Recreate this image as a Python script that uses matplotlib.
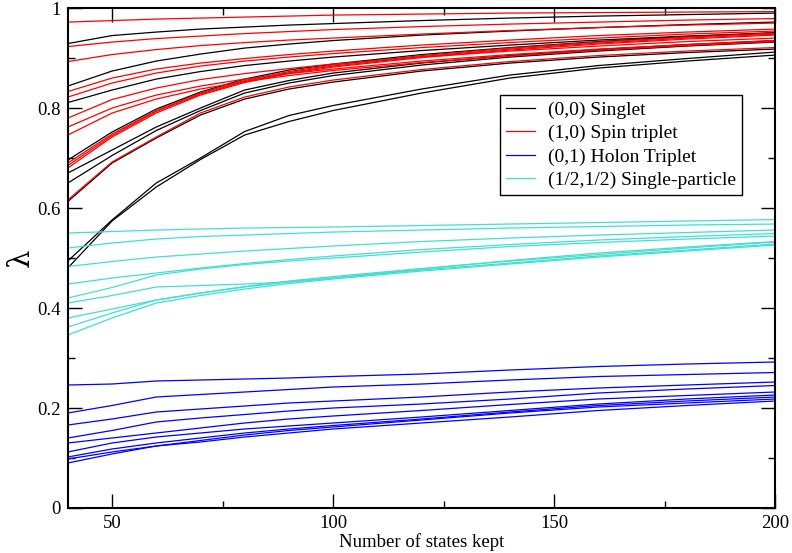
import matplotlib
matplotlib.use("Agg")
import matplotlib.pyplot as plt
from matplotlib.ticker import MultipleLocator, FixedLocator

plt.rcParams['font.family'] = ['Liberation Serif', 'DejaVu Serif']

states = [40, 50, 60, 70, 80, 90, 100, 120, 140, 160, 180, 200]

singlet = [
    [0.929, 0.945, 0.952, 0.958, 0.962, 0.966, 0.969, 0.975, 0.980, 0.984, 0.987, 0.990],
    [0.844, 0.874, 0.894, 0.908, 0.920, 0.928, 0.935, 0.946, 0.954, 0.961, 0.967, 0.972],
    [0.811, 0.836, 0.858, 0.873, 0.885, 0.894, 0.902, 0.915, 0.926, 0.936, 0.944, 0.950],
    [0.696, 0.752, 0.798, 0.832, 0.858, 0.876, 0.888, 0.907, 0.921, 0.933, 0.943, 0.951],
    [0.670, 0.716, 0.762, 0.800, 0.836, 0.855, 0.870, 0.890, 0.905, 0.917, 0.927, 0.935],
    [0.650, 0.705, 0.755, 0.795, 0.830, 0.850, 0.865, 0.886, 0.902, 0.914, 0.924, 0.932],
    [0.613, 0.690, 0.740, 0.786, 0.818, 0.838, 0.852, 0.874, 0.890, 0.902, 0.911, 0.918],
    [0.494, 0.576, 0.650, 0.700, 0.753, 0.785, 0.805, 0.838, 0.866, 0.885, 0.899, 0.912],
    [0.480, 0.574, 0.642, 0.697, 0.746, 0.773, 0.795, 0.830, 0.860, 0.880, 0.894, 0.906],
]

spin_triplet = [
    [0.972, 0.975, 0.978, 0.980, 0.982, 0.984, 0.986, 0.988, 0.990, 0.991, 0.992, 0.993],
    [0.923, 0.932, 0.939, 0.944, 0.949, 0.953, 0.957, 0.963, 0.968, 0.972, 0.976, 0.979],
    [0.893, 0.907, 0.917, 0.925, 0.931, 0.936, 0.940, 0.948, 0.955, 0.961, 0.966, 0.970],
    [0.833, 0.860, 0.878, 0.890, 0.899, 0.907, 0.914, 0.926, 0.936, 0.945, 0.952, 0.958],
    [0.822, 0.850, 0.870, 0.884, 0.894, 0.902, 0.909, 0.921, 0.931, 0.940, 0.948, 0.954],
    [0.780, 0.817, 0.840, 0.857, 0.869, 0.879, 0.888, 0.902, 0.914, 0.924, 0.933, 0.940],
    [0.762, 0.800, 0.826, 0.844, 0.858, 0.869, 0.878, 0.894, 0.907, 0.918, 0.927, 0.935],
    [0.746, 0.790, 0.818, 0.838, 0.853, 0.865, 0.875, 0.891, 0.904, 0.916, 0.925, 0.933],
    [0.690, 0.748, 0.795, 0.830, 0.855, 0.873, 0.886, 0.905, 0.920, 0.932, 0.942, 0.950],
    [0.685, 0.745, 0.793, 0.828, 0.853, 0.871, 0.884, 0.903, 0.918, 0.930, 0.940, 0.948],
    [0.680, 0.742, 0.790, 0.826, 0.851, 0.869, 0.882, 0.901, 0.916, 0.928, 0.938, 0.946],
    [0.616, 0.692, 0.742, 0.790, 0.822, 0.842, 0.856, 0.877, 0.893, 0.905, 0.914, 0.921],
]

holon_triplet = [
    [0.246, 0.248, 0.254, 0.256, 0.258, 0.260, 0.263, 0.268, 0.276, 0.283, 0.288, 0.292],
    [0.190, 0.205, 0.222, 0.227, 0.232, 0.237, 0.242, 0.248, 0.256, 0.263, 0.267, 0.271],
    [0.166, 0.178, 0.192, 0.198, 0.204, 0.210, 0.214, 0.222, 0.232, 0.240, 0.246, 0.252],
    [0.140, 0.155, 0.172, 0.180, 0.187, 0.194, 0.200, 0.208, 0.218, 0.230, 0.238, 0.245],
    [0.130, 0.140, 0.150, 0.160, 0.170, 0.178, 0.184, 0.195, 0.207, 0.218, 0.225, 0.232],
    [0.112, 0.130, 0.142, 0.150, 0.158, 0.164, 0.170, 0.182, 0.195, 0.208, 0.218, 0.226],
    [0.102, 0.118, 0.130, 0.140, 0.150, 0.158, 0.165, 0.178, 0.192, 0.205, 0.214, 0.222],
    [0.098, 0.112, 0.124, 0.135, 0.146, 0.155, 0.162, 0.176, 0.190, 0.202, 0.210, 0.218],
    [0.090, 0.108, 0.124, 0.132, 0.142, 0.150, 0.158, 0.170, 0.182, 0.195, 0.205, 0.214],
]

single_particle = [
    [0.550, 0.553, 0.556, 0.558, 0.560, 0.561, 0.562, 0.565, 0.568, 0.571, 0.574, 0.577],
    [0.520, 0.530, 0.538, 0.543, 0.546, 0.549, 0.552, 0.556, 0.560, 0.563, 0.566, 0.568],
    [0.483, 0.493, 0.502, 0.508, 0.514, 0.519, 0.524, 0.533, 0.540, 0.546, 0.551, 0.556],
    [0.448, 0.460, 0.470, 0.480, 0.489, 0.497, 0.504, 0.517, 0.527, 0.536, 0.543, 0.549],
    [0.420, 0.441, 0.466, 0.478, 0.487, 0.494, 0.500, 0.512, 0.523, 0.531, 0.538, 0.544],
    [0.410, 0.425, 0.442, 0.445, 0.448, 0.452, 0.460, 0.478, 0.495, 0.510, 0.522, 0.533],
    [0.380, 0.398, 0.416, 0.430, 0.443, 0.454, 0.463, 0.479, 0.494, 0.507, 0.520, 0.532],
    [0.362, 0.390, 0.416, 0.430, 0.442, 0.452, 0.460, 0.476, 0.490, 0.504, 0.516, 0.528],
    [0.346, 0.380, 0.410, 0.425, 0.438, 0.449, 0.458, 0.474, 0.488, 0.502, 0.514, 0.526],
]

groups = [
    ("(0,0) Singlet", singlet, "#000000"),
    ("(1,0) Spin triplet", spin_triplet, "#ff0000"),
    ("(0,1) Holon Triplet", holon_triplet, "#0000ff"),
    ("(1/2,1/2) Single-particle", single_particle, "#40e0d0"),
]

fig = plt.figure(figsize=(7.92, 5.53), dpi=100)
ax = fig.add_axes([0.0856, 0.0814, 0.893, 0.904])

for label, series, color in groups:
    for i, ys in enumerate(series):
        ax.plot(states, ys, color=color, lw=0.9, label=label if i == 0 else None)

ax.set_xlim(40, 200)
ax.set_ylim(0, 1)
ax.xaxis.set_major_locator(FixedLocator([50, 100, 150, 200]))
ax.xaxis.set_minor_locator(FixedLocator([75, 125, 175]))
ax.yaxis.set_major_locator(FixedLocator([0, 0.2, 0.4, 0.6, 0.8, 1.0]))
ax.yaxis.set_minor_locator(MultipleLocator(0.1))
ax.set_yticklabels(["0", "0.2", "0.4", "0.6", "0.8", "1"])

ax.tick_params(which='both', direction='in', top=True, right=True, labelsize=13.5, width=1.0)
ax.tick_params(which='major', length=10, pad=5)
ax.tick_params(which='minor', length=5)
for s in ax.spines.values():
    s.set_linewidth(1.5)

ax.set_xlabel("Number of states kept", fontsize=13.5, labelpad=1)
ax.set_ylabel("λ", fontsize=21, labelpad=2, family=['DejaVu Serif'])

leg = ax.legend(loc='upper right', bbox_to_anchor=(0.953, 0.826), fontsize=14,
                frameon=True, fancybox=False, framealpha=1, edgecolor='black',
                borderpad=0.3, labelspacing=0.3, handlelength=1.5, handletextpad=0.65,
                borderaxespad=0)
leg.get_frame().set_linewidth(1.0)

fig.savefig("out.png", dpi=100)
